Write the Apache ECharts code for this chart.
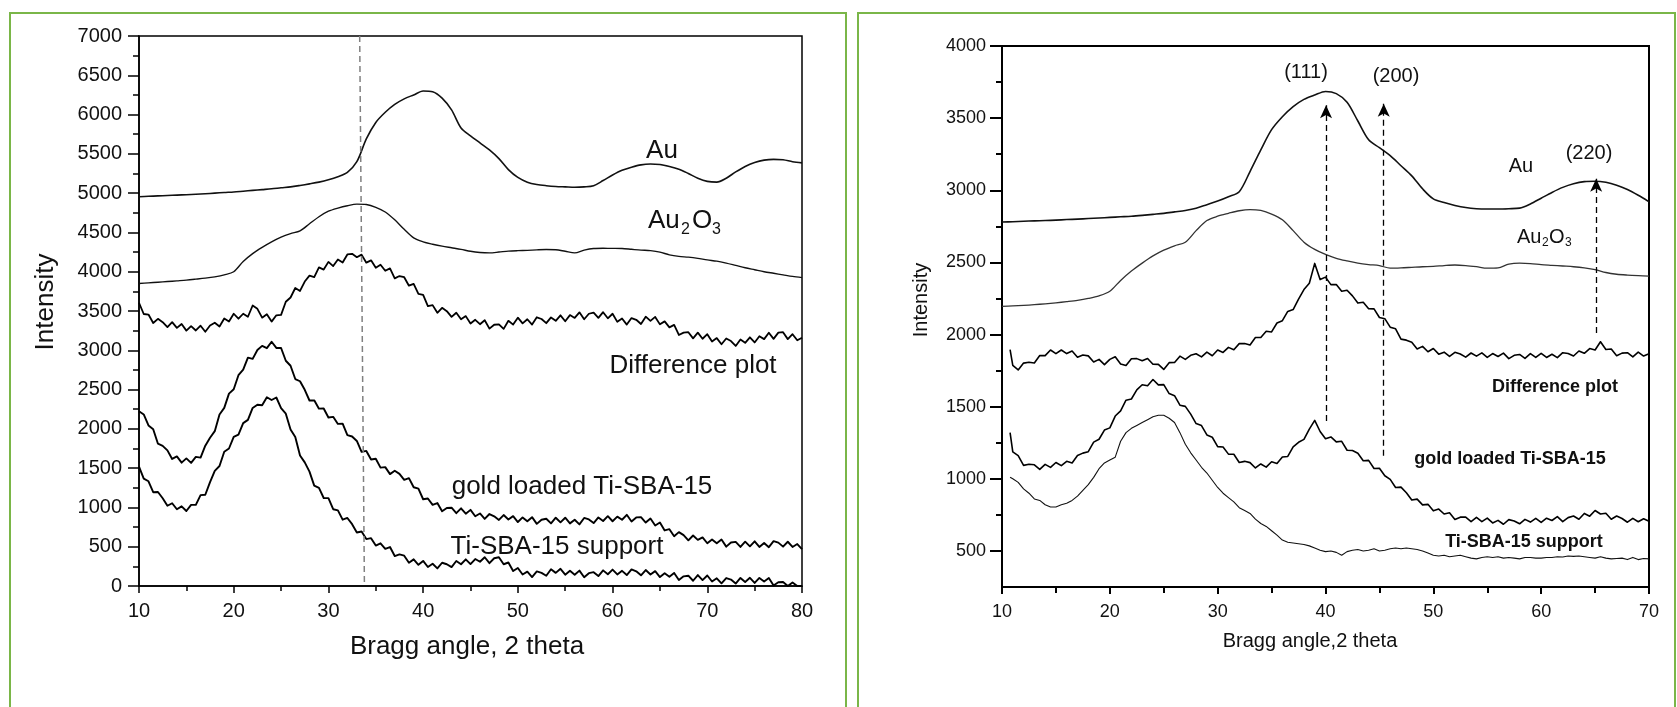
<!DOCTYPE html>
<html><head><meta charset="utf-8">
<script src="https://cdn.jsdelivr.net/npm/echarts@6/dist/echarts.min.js"></script>
<style>html,body{margin:0;padding:0;background:#fff}#c{width:1677px;height:707px}</style>
</head><body><div id="c"></div>
<script>
// ---------------- LEFT PANEL DATA (2θ 10–80) ----------------
const X_L_SMOOTH = [10,11,12,13,14,15,16,17,18,19,20,21,22,23,24,25,26,27,28,29,30,31,32,33,34,35,36,37,38,39,40,41,42,43,44,45,46,47,48,49,50,51,52,53,54,55,56,57,58,59,60,61,62,63,64,65,66,67,68,69,70,71,72,73,74,75,76,77,78,79,80];
const X_L_NOISY = [
10,10.5,11,11.5,12,12.5,13,13.5,14,14.5,
15,15.5,16,16.5,17,17.5,18,18.5,19,19.5,
20,20.5,21,21.5,22,22.5,23,23.5,24,24.5,
25,25.5,26,26.5,27,27.5,28,28.5,29,29.5,
30,30.5,31,31.5,32,32.5,33,33.5,34,34.5,
35,35.5,36,36.5,37,37.5,38,38.5,39,39.5,
40,40.5,41,41.5,42,42.5,43,43.5,44,44.5,
45,45.5,46,46.5,47,47.5,48,48.5,49,49.5,
50,50.5,51,51.5,52,52.5,53,53.5,54,54.5,
55,55.5,56,56.5,57,57.5,58,58.5,59,59.5,
60,60.5,61,61.5,62,62.5,63,63.5,64,64.5,
65,65.5,66,66.5,67,67.5,68,68.5,69,69.5,
70,70.5,71,71.5,72,72.5,73,73.5,74,74.5,
75,75.5,76,76.5,77,77.5,78,78.5,79,79.5,
80];
const L_AU = [
4955,4960,4965,4970,4975,4980,4985,4992,5000,5008,
5015,5025,5035,5045,5055,5068,5080,5098,5118,5140,
5170,5210,5265,5400,5690,5900,6030,6130,6200,6250,
6300,6290,6210,6060,5830,5730,5640,5550,5440,5300,
5200,5140,5110,5095,5085,5080,5075,5080,5095,5160,
5230,5290,5330,5360,5370,5365,5340,5305,5250,5190,
5150,5140,5190,5270,5340,5390,5420,5430,5425,5400,5385];
const L_AU2O3 = [
3850,3858,3866,3875,3884,3893,3905,3918,3935,3960,
4000,4130,4230,4310,4380,4440,4485,4520,4610,4700,
4770,4810,4840,4860,4855,4820,4760,4660,4540,4430,
4380,4350,4325,4305,4285,4260,4245,4240,4250,4262,
4268,4272,4278,4282,4280,4260,4240,4275,4295,4298,
4297,4295,4285,4275,4268,4250,4215,4195,4185,4170,
4150,4135,4110,4080,4050,4025,4000,3980,3960,3940,3925];
const L_DIFF = [
3605,3462,3455,3347,3400,3358,3295,3358,3285,3335,
3250,3308,3252,3313,3235,3315,3350,3302,3405,3367,
3465,3402,3465,3427,3570,3528,3415,3458,3365,3445,
3450,3618,3672,3793,3755,3875,3950,3932,4055,4027,
4125,4072,4155,4117,4220,4228,4185,4218,4115,4145,
4050,4088,4012,4043,3915,3945,3930,3822,3845,3717,
3705,3562,3575,3477,3540,3498,3425,3478,3395,3435,
3340,3388,3332,3383,3275,3325,3330,3272,3375,3327,
3415,3342,3395,3327,3420,3398,3345,3418,3375,3445,
3370,3448,3412,3483,3395,3465,3480,3412,3485,3407,
3465,3362,3405,3327,3410,3388,3335,3428,3375,3425,
3330,3368,3292,3323,3195,3225,3230,3152,3225,3147,
3205,3112,3155,3077,3150,3118,3055,3138,3095,3165,
3100,3178,3142,3223,3145,3225,3230,3142,3205,3127,
3160];
const L_GOLD = [
2224,2183,2043,1996,1811,1783,1726,1617,1649,1570,
1624,1567,1643,1634,1786,1887,1971,2183,2267,2449,
2504,2683,2753,2906,2891,3003,3056,3027,3109,3030,
3029,2867,2803,2634,2606,2497,2361,2363,2257,2259,
2144,2153,2063,2066,1921,1903,1846,1707,1719,1610,
1619,1507,1513,1424,1466,1427,1351,1373,1257,1239,
1104,1113,1033,1056,951,993,996,927,989,920,
969,887,923,854,916,887,841,903,847,889,
814,873,823,876,791,843,856,797,869,810,
869,797,843,784,866,847,801,873,827,889,
824,883,843,906,821,873,876,807,859,770,
809,707,723,634,686,647,581,643,587,619,
544,593,543,591,501,553,561,497,564,505,
569,497,548,494,571,552,501,563,497,534,
470];
const L_SUPPORT = [
1519,1367,1333,1194,1196,1117,1021,1053,977,1014,
954,1033,1033,1156,1161,1323,1466,1527,1709,1750,
1899,1927,2073,2114,2266,2307,2301,2403,2367,2399,
2264,2193,1993,1896,1661,1573,1456,1277,1249,1120,
1119,977,963,844,866,787,681,693,597,609,
514,543,473,496,381,403,386,297,339,270,
319,242,283,224,296,277,241,318,277,339,
279,343,308,366,291,353,366,277,299,190,
229,147,183,114,186,167,131,213,167,219,
144,193,143,196,111,163,176,127,199,150,
209,147,193,139,211,187,136,203,147,189,
114,163,118,166,76,123,131,67,139,75,
134,57,98,34,101,82,31,103,52,104,
39,103,58,101,6,48,51,0,44,0,
0];
// reference dashed line (2θ, intensity) at both ends
const L_REF_LINE = [[33.3, 7000], [33.8, 0]];
const L_X_TICKS = [10,20,30,40,50,60,70,80];
const L_Y_TICKS = [0,500,1000,1500,2000,2500,3000,3500,4000,4500,5000,5500,6000,6500,7000];

// ---------------- RIGHT PANEL DATA (2θ 10–70) ----------------
const X_R_SMOOTH = [10,11,12,13,14,15,16,17,18,19,20,21,22,23,24,25,26,27,28,29,30,31,32,33,34,35,36,37,38,39,40,41,42,43,44,45,46,47,48,49,50,51,52,53,54,55,56,57,58,59,60,61,62,63,64,65,66,67,68,69,70];
const X_R_NOISY = [
10.75,
11,11.5,12,12.5,13,13.5,14,14.5,
15,15.5,16,16.5,17,17.5,18,18.5,19,19.5,
20,20.5,21,21.5,22,22.5,23,23.5,24,24.5,
25,25.5,26,26.5,27,27.5,28,28.5,29,29.5,
30,30.5,31,31.5,32,32.5,33,33.5,34,34.5,
35,35.5,36,36.5,37,37.5,38,38.5,39,39.5,
40,40.5,41,41.5,42,42.5,43,43.5,44,44.5,
45,45.5,46,46.5,47,47.5,48,48.5,49,49.5,
50,50.5,51,51.5,52,52.5,53,53.5,54,54.5,
55,55.5,56,56.5,57,57.5,58,58.5,59,59.5,
60,60.5,61,61.5,62,62.5,63,63.5,64,64.5,
65,65.5,66,66.5,67,67.5,68,68.5,69,69.5,
70];
const R_AU = [
2780,2782,2785,2788,2790,2793,2797,2800,2804,2808,
2812,2816,2820,2826,2833,2840,2850,2860,2875,2900,
2925,2955,2990,3130,3280,3420,3510,3580,3630,3660,
3685,3670,3610,3480,3350,3295,3240,3170,3100,3010,
2940,2915,2895,2880,2872,2870,2870,2872,2876,2905,
2945,2985,3020,3045,3060,3063,3055,3035,3005,2965,
2920];
const R_AU2O3 = [
2195,2198,2202,2207,2213,2220,2228,2237,2250,2268,
2300,2375,2440,2495,2545,2585,2615,2640,2720,2790,
2820,2840,2858,2866,2860,2835,2795,2720,2640,2590,
2555,2528,2510,2495,2485,2478,2460,2462,2466,2470,
2472,2478,2482,2478,2470,2460,2462,2488,2495,2492,
2485,2480,2475,2470,2462,2450,2430,2418,2412,2408,
2405];
const R_DIFF = [
1895,
1786,1755,1802,1808,1803,1854,1854,1893,
1868,1893,1868,1886,1843,1858,1852,1810,1828,1791,
1828,1846,1796,1785,1832,1833,1818,1834,1794,1793,
1758,1805,1806,1850,1828,1856,1867,1845,1878,1853,
1893,1876,1911,1895,1937,1938,1928,1979,1979,2023,
2018,2080,2096,2160,2173,2246,2312,2355,2493,2381,
2398,2346,2346,2300,2307,2268,2218,2224,2179,2178,
2118,2110,2051,2040,1968,1961,1947,1900,1918,1881,
1903,1864,1878,1848,1877,1865,1843,1872,1850,1873,
1842,1868,1848,1871,1833,1856,1862,1835,1868,1841,
1870,1841,1863,1840,1874,1868,1851,1886,1870,1903,
1893,1950,1896,1900,1853,1871,1874,1845,1878,1851,
1866];
const R_GOLD = [
1320,
1186,1160,1093,1101,1097,1065,1100,1079,
1113,1091,1121,1110,1162,1178,1188,1254,1274,1338,
1353,1435,1471,1545,1553,1616,1652,1645,1688,1651,
1653,1591,1576,1510,1502,1448,1383,1369,1304,1288,
1223,1220,1171,1170,1113,1121,1112,1075,1103,1081,
1118,1106,1151,1155,1222,1253,1273,1344,1405,1328,
1278,1290,1256,1260,1198,1196,1177,1125,1128,1071,
1073,1021,996,940,942,903,853,859,819,823,
778,790,756,765,718,734,734,703,733,703,
728,694,712,685,717,708,688,719,700,726,
698,727,711,738,703,731,742,720,760,741,
780,756,761,720,742,725,699,726,702,723,
706];
const R_SUPPORT = [
1010,
1000,975,930,900,860,850,820,805,
805,820,830,850,880,920,960,1010,1070,1110,
1130,1150,1260,1320,1350,1370,1390,1410,1430,1440,
1440,1420,1390,1320,1240,1180,1130,1080,1040,990,
940,900,870,840,800,780,760,720,690,670,
640,610,575,560,555,550,545,535,520,505,
495,500,490,470,495,505,510,500,505,515,
500,505,515,520,515,520,515,510,500,485,
470,465,470,460,465,470,460,450,445,455,
460,455,460,450,455,450,445,455,455,450,
450,455,455,460,458,465,462,465,460,455,
450,460,450,445,448,450,440,455,440,448,
445];
// reflection markers: 2θ position, dashed-line start and arrow tip intensity
const R_PEAK_LABELS = ['(111)', '(200)', '(220)'];
const R_PEAK_X      = [40.05, 45.4, 65.1];
const R_ARROW_FROM  = [1400, 1160, 2010];
const R_ARROW_TO    = [3590, 3600, 3080];
const R_X_TICKS = [10,20,30,40,50,60,70];
const R_Y_MAJOR = [500,1000,1500,2000,2500,3000,3500,4000];
const R_Y_MINOR = [750,1250,1750,2250,2750,3250,3750];

// ---------------- CHART ----------------
const FONT = '"Liberation Sans", Arial, Helvetica, sans-serif';
const zip = (xs, ys) => xs.map((x, i) => [x, ys[i]]);
const plain = v => String(v);
const chart = echarts.init(document.getElementById('c'));

function lineSeries(name, xi, yi, xs, ys, width, color, smooth) {
  return { name, type: 'line', xAxisIndex: xi, yAxisIndex: yi, data: zip(xs, ys),
    showSymbol: false, symbol: 'none', smooth: smooth || false, clip: true,
    lineStyle: { color: color || '#000', width: width, join: 'round' }, silent: true, z: 3 };
}

function txt(text, x, y, size, opts) {
  opts = opts || {};
  return { type: 'text', x, y, rotation: opts.rot || 0, z: 10,
    style: { text, fill: '#111', font: (opts.bold ? 'bold ' : '') + size + 'px ' + FONT,
      align: opts.align || 'center', verticalAlign: 'middle' } };
}

const axisLineStyle = { color: '#000', width: 1.5 };

const option = {
  animation: false,
  backgroundColor: '#fff',
  grid: [
    { left: 139, top: 36, width: 663, height: 550, show: true, borderColor: '#000', borderWidth: 1.5, backgroundColor: 'transparent' },
    { left: 1002, top: 46, width: 647, height: 541, show: true, borderColor: '#000', borderWidth: 2, backgroundColor: 'transparent' }
  ],
  xAxis: [
    { gridIndex: 0, type: 'value', min: 10, max: 80, interval: 10,
      axisLine: { lineStyle: axisLineStyle }, splitLine: { show: false },
      axisTick: { length: 7, lineStyle: axisLineStyle },
      minorTick: { show: true, splitNumber: 2, length: 5, lineStyle: { color: '#000', width: 1.5 } },
      axisLabel: { customValues: L_X_TICKS, formatter: plain, color: '#111', fontSize: 20, fontFamily: FONT, margin: 15 } },
    { gridIndex: 1, type: 'value', min: 10, max: 70, interval: 10,
      axisLine: { lineStyle: { color: '#000', width: 2 } }, splitLine: { show: false },
      axisTick: { length: 7, lineStyle: { color: '#000', width: 2 } },
      minorTick: { show: true, splitNumber: 2, length: 6, lineStyle: { color: '#000', width: 2 } },
      axisLabel: { customValues: R_X_TICKS, formatter: plain, color: '#111', fontSize: 18, fontFamily: FONT, margin: 16 } }
  ],
  yAxis: [
    { gridIndex: 0, type: 'value', position: 'left', min: 0, max: 7000, interval: 500,
      axisLine: { show: true, lineStyle: axisLineStyle }, splitLine: { show: false },
      axisTick: { show: true, length: 11, lineStyle: axisLineStyle },
      minorTick: { show: true, splitNumber: 2, length: 6, lineStyle: { color: '#000', width: 1.5 } },
      axisLabel: { customValues: L_Y_TICKS, formatter: plain, color: '#111', fontSize: 20, fontFamily: FONT, margin: 17 } },
    { gridIndex: 1, type: 'value', position: 'left', min: 250, max: 4000, interval: 250,
      axisLine: { show: true, lineStyle: { color: '#000', width: 2 } }, splitLine: { show: false },
      axisTick: { show: true, customValues: R_Y_MAJOR, length: 12, lineStyle: { color: '#000', width: 2 } },
      axisLabel: { customValues: R_Y_MAJOR, formatter: plain, color: '#111', fontSize: 18, fontFamily: FONT, margin: 16 } },
    { gridIndex: 1, type: 'value', position: 'left', offset: 0, min: 250, max: 4000, interval: 250,
      axisLine: { show: false }, splitLine: { show: false },
      axisTick: { show: true, customValues: R_Y_MINOR, length: 6, lineStyle: { color: '#000', width: 2 } },
      axisLabel: { show: false } }
  ],
  series: [
    lineSeries('Au', 0, 0, X_L_SMOOTH, L_AU, 1.6, '#111', 0.3),
    lineSeries('Au2O3', 0, 0, X_L_SMOOTH, L_AU2O3, 1.4, '#111', 0.3),
    lineSeries('Difference plot', 0, 0, X_L_NOISY, L_DIFF, 1.8, '#000'),
    lineSeries('gold loaded Ti-SBA-15', 0, 0, X_L_NOISY, L_GOLD, 1.9, '#000'),
    Object.assign(lineSeries('Ti-SBA-15 support', 0, 0, X_L_NOISY, L_SUPPORT, 1.9, '#000'), {
      markLine: { silent: true, symbol: ['none', 'none'], label: { show: false },
        lineStyle: { type: [6, 4], color: '#808080', width: 1.5 },
        data: [[{ coord: L_REF_LINE[0] }, { coord: L_REF_LINE[1] }]] }
    }),
    lineSeries('Au (r)', 1, 1, X_R_SMOOTH, R_AU, 1.6, '#111', 0.3),
    lineSeries('Au2O3 (r)', 1, 1, X_R_SMOOTH, R_AU2O3, 1.3, '#333', 0.3),
    lineSeries('Difference plot (r)', 1, 1, X_R_NOISY, R_DIFF, 1.6, '#000'),
    Object.assign(lineSeries('gold loaded Ti-SBA-15 (r)', 1, 1, X_R_NOISY, R_GOLD, 1.6, '#000'), {
      markLine: { silent: true, symbol: ['none', 'arrow'], symbolSize: [9, 13], label: { show: false },
        lineStyle: { type: [6, 4], color: '#000', width: 1.3 },
        data: R_PEAK_X.map((x, i) => [{ coord: [x, R_ARROW_FROM[i]] }, { coord: [x, R_ARROW_TO[i]] }]) }
    }),
    lineSeries('Ti-SBA-15 support (r)', 1, 1, X_R_NOISY, R_SUPPORT, 1.1, '#111')
  ],
  graphic: [
    { type: 'rect', shape: { x: 10, y: 13, width: 836, height: 760 }, style: { fill: 'none', stroke: '#7ab648', lineWidth: 2 }, z: 1 },
    { type: 'rect', shape: { x: 858, y: 13, width: 817, height: 760 }, style: { fill: 'none', stroke: '#7ab648', lineWidth: 2 }, z: 1 },
    // left panel texts
    txt('Intensity', 46, 302, 26, { rot: Math.PI / 2 }),
    txt('Bragg angle, 2 theta', 467, 647, 26),
    txt('Au', 662, 151, 26),
    txt('Au', 648, 221, 26, { align: 'left' }),
    txt('2', 681, 230, 16, { align: 'left' }),
    txt('O', 692, 221, 26, { align: 'left' }),
    txt('3', 712, 230, 16, { align: 'left' }),
    txt('Difference plot', 693, 366, 26),
    txt('gold loaded Ti-SBA-15', 582, 487, 26),
    txt('Ti-SBA-15 support', 557, 547, 26),
    // right panel texts
    txt('Intensity', 921, 300, 20, { rot: Math.PI / 2 }),
    txt('Bragg angle,2 theta', 1310, 641, 20),
    txt(R_PEAK_LABELS[0], 1306, 72, 20),
    txt(R_PEAK_LABELS[1], 1396, 76, 20),
    txt(R_PEAK_LABELS[2], 1589, 153, 20),
    txt('Au', 1521, 166, 20),
    txt('Au', 1517, 237, 20, { align: 'left' }),
    txt('2', 1542, 243, 12, { align: 'left' }),
    txt('O', 1549, 237, 20, { align: 'left' }),
    txt('3', 1565, 243, 12, { align: 'left' }),
    txt('Difference plot', 1555, 387, 18, { bold: true }),
    txt('gold loaded Ti-SBA-15', 1510, 459, 18, { bold: true }),
    txt('Ti-SBA-15 support', 1524, 542, 18, { bold: true })
  ]
};
chart.setOption(option);
</script>
</body></html>
